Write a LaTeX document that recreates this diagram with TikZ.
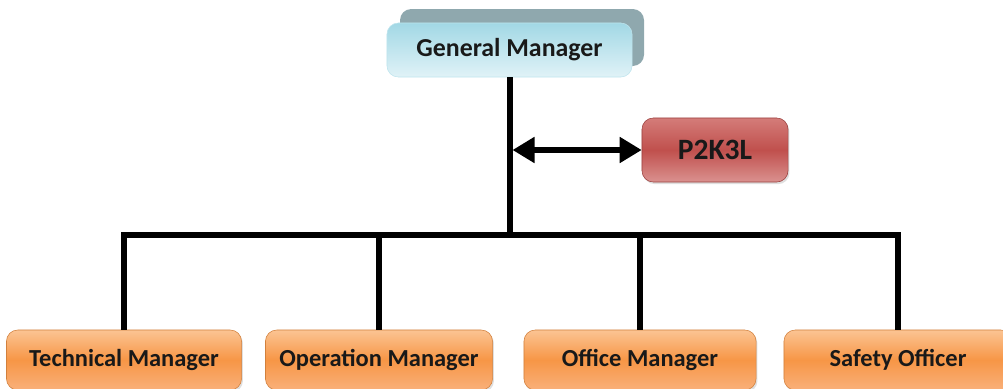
\documentclass[tikz,border=0pt]{standalone}
\usepackage{fontspec}
\setmainfont{Carlito}
\usetikzlibrary{arrows.meta,shadows}

\definecolor{gmtop}{HTML}{A2D8E5}
\definecolor{gmbot}{HTML}{E0F2F7}
\definecolor{gmshade}{HTML}{8FA8AE}
\definecolor{redtop}{HTML}{D47C79}
\definecolor{redmid}{HTML}{C0504D}
\definecolor{redbot}{HTML}{DA918F}
\definecolor{ortop}{HTML}{FBC493}
\definecolor{ormid}{HTML}{F79646}
\definecolor{orbot}{HTML}{F9B07A}

\tikzset{
  box/.style={rounded corners=8pt, inner sep=0pt, text=black!90},
  gmbox/.style={box, draw=gmtop!70!white, top color=gmtop, bottom color=gmbot,
    minimum width=6.125cm, minimum height=1.35cm, font=\bfseries\fontsize{18.4}{20}\selectfont},
  p2box/.style={box, draw=redmid!80!black, top color=redtop, bottom color=redbot, middle color=redmid,
    minimum width=3.65cm, minimum height=1.6cm, font=\bfseries\fontsize{21}{23}\selectfont,
    drop shadow={opacity=0.25, shadow xshift=1pt, shadow yshift=-1.5pt}},
  staffbox/.style={box, draw=ormid!85!black, top color=ortop, bottom color=orbot, middle color=ormid,
    minimum height=1.5cm, font=\bfseries\fontsize{17.4}{19}\selectfont,
    drop shadow={opacity=0.25, shadow xshift=1pt, shadow yshift=-1.5pt}},
  conn/.style={line width=0.15cm, line join=miter},
}

\begin{document}
\begin{tikzpicture}[x=0.025cm, y=-0.025cm]
  \useasboundingbox (0,0) rectangle (1003,388);

  % general manager with its back plate
  \fill[gmshade, rounded corners=8pt] (400,9) rectangle (644,66);
  \node[gmbox] (gm) at (509.5,50) {General Manager};

  \node[p2box] (p2k3l) at (715,150) {P2K3L};

  % staff row
  \node[staffbox, minimum width=5.875cm] (tm) at (124,360) {Technical Manager};
  \node[staffbox, minimum width=5.675cm] (om) at (379,360) {Operation Manager};
  \node[staffbox, minimum width=5.8cm]   (ofm) at (640,360) {Office Manager};
  \node[staffbox, minimum width=5.7cm]   (so) at (898,360) {Safety Officer};

  \coordinate (bus) at (509.5,235);
  \coordinate (link) at (509.5,150);

  % connectors
  \draw[conn] (gm.south) -- (bus);
  \draw[conn] (tm.north) |- (bus) -| (so.north);
  \draw[conn] (om.north) -- (om.north |- bus);
  \draw[conn] (ofm.north) -- (ofm.north |- bus);
  \draw[line width=0.15cm, {Triangle[length=0.55cm,width=0.62cm]}-{Triangle[length=0.55cm,width=0.62cm]}]
    ([xshift=0.075cm]link) -- (p2k3l.west);
\end{tikzpicture}
\end{document}
